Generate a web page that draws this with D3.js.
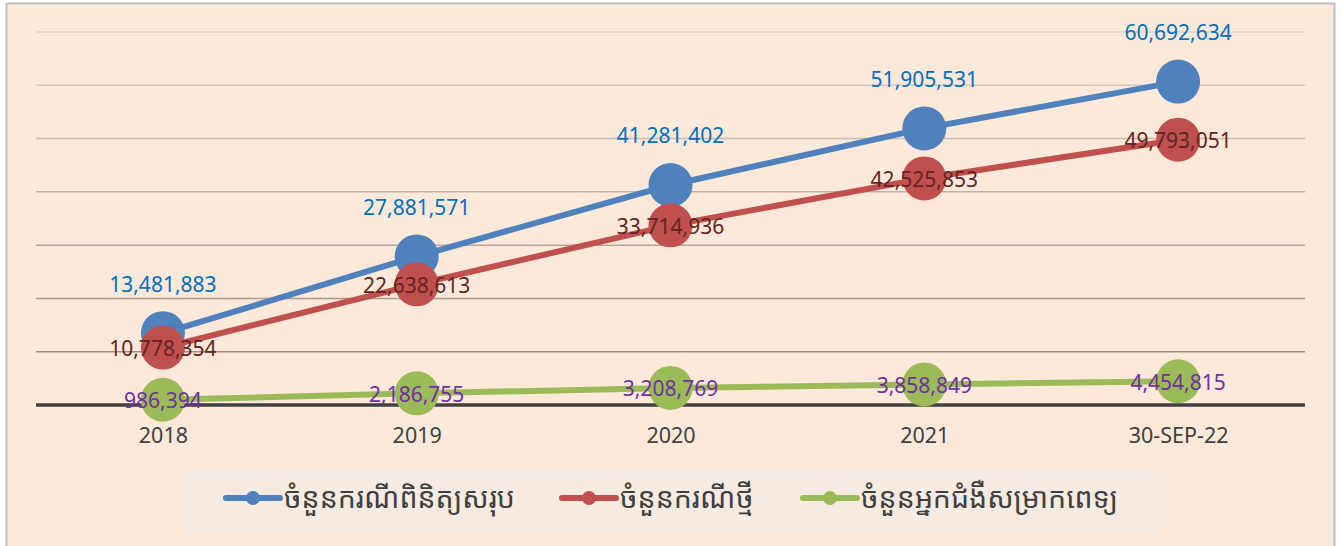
<!DOCTYPE html>
<html>
<head>
  <meta charset="utf-8">
  <title>Cases chart</title>
  <script src="https://cdn.jsdelivr.net/npm/d3@7/dist/d3.min.js"></script>
  <style>
    body { margin: 0; background: #fff; }
    svg text { font-family: "Noto Sans", "DejaVu Sans", sans-serif; }
    .legend text { font-family: "Noto Sans Khmer", "Khmer OS", "Noto Sans", sans-serif; }
  </style>
</head>
<body>
  <div id="chart"></div>
  <script>
    const categories = ['2018', '2019', '2020', '2021', '30-SEP-22'];
    const totalTested = [13481883, 27881571, 41281402, 51905531, 60692634];
    const newCases = [10778354, 22638613, 33714936, 42525853, 49793051];
    const patients = [986394, 2186755, 3208769, 3858849, 4454815];
    const seriesNames = ['ចំនួនករណីពិនិត្យសរុប', 'ចំនួនករណីថ្មី', 'ចំនួនអ្នកជំងឺសម្រាកពេទ្យ'];

    const series = [
      { name: seriesNames[0], values: totalTested, color: '#4F81BD', label: '#0070C0', pos: 'above' },
      { name: seriesNames[1], values: newCases, color: '#C0504D', label: '#632523', pos: 'center' },
      { name: seriesNames[2], values: patients, color: '#9BBB59', label: '#7030A0', pos: 'center' }
    ];

    const W = 1343, H = 546;
    const svg = d3.select('#chart').append('svg')
      .attr('width', W)
      .attr('height', H);

    // chart area background + border
    svg.append('rect')
      .attr('x', 6.5).attr('y', 3.5)
      .attr('width', 1328).attr('height', 560)
      .attr('fill', '#FDE9DA')
      .attr('stroke', '#BFBFBF')
      .attr('stroke-width', 2);

    const plotLeft = 36, plotRight = 1305, plotTop = 32, plotBottom = 405;

    const x = d3.scalePoint()
      .domain(categories)
      .range([plotLeft, plotRight])
      .padding(0.5);

    const y = d3.scaleLinear()
      .domain([0, 70000000])
      .range([plotBottom, plotTop]);

    // gridlines, getting darker toward the bottom
    const ticks = d3.range(10000000, 70000001, 10000000);
    const gridColor = d3.scaleLinear()
      .domain([70000000, 10000000])
      .range(['#E2D3C8', '#9C918A']);

    svg.append('g')
      .selectAll('line')
      .data(ticks)
      .join('line')
      .attr('x1', plotLeft).attr('x2', plotRight)
      .attr('y1', d => y(d)).attr('y2', d => y(d))
      .attr('stroke', d => gridColor(d))
      .attr('stroke-width', 1.5);

    // x axis
    const xAxis = svg.append('g')
      .attr('transform', `translate(0,${y(0)})`)
      .call(d3.axisBottom(x).tickSize(0).tickPadding(23));
    xAxis.select('.domain')
      .attr('d', `M${plotLeft},0H${plotRight}`)
      .attr('stroke', '#404040')
      .attr('stroke-width', 3.5);
    xAxis.selectAll('text')
      .attr('fill', '#404040')
      .style('font-size', '21.5px');

    const line = d3.line()
      .x((d, i) => x(categories[i]))
      .y(d => y(d));

    // lines
    series.forEach(s => {
      svg.append('path')
        .datum(s.values)
        .attr('d', line)
        .attr('fill', 'none')
        .attr('stroke', s.color)
        .attr('stroke-width', 6);
    });

    // markers
    series.forEach(s => {
      svg.append('g')
        .selectAll('circle')
        .data(s.values)
        .join('circle')
        .attr('cx', (d, i) => x(categories[i]))
        .attr('cy', d => y(d))
        .attr('r', 22)
        .attr('fill', s.color);
    });

    // data labels
    const fmt = d3.format(',');
    series.forEach(s => {
      svg.append('g')
        .selectAll('text')
        .data(s.values)
        .join('text')
        .attr('x', (d, i) => x(categories[i]))
        .attr('y', d => s.pos === 'above' ? y(d) - 49 : y(d) + 1)
        .attr('dy', '0.35em')
        .attr('text-anchor', 'middle')
        .attr('fill', s.label)
        .style('font-size', '21px')
        .text(d => fmt(d));
    });

    // legend
    const legend = svg.append('g').attr('class', 'legend');
    legend.append('rect')
      .attr('x', 180).attr('y', 467)
      .attr('width', 982).attr('height', 63)
      .attr('fill', '#F7EBE1');

    const legendX = [226, 562, 803];
    series.forEach((s, i) => {
      const g = legend.append('g')
        .attr('transform', `translate(${legendX[i]},498)`);
      g.append('line')
        .attr('x1', 0).attr('x2', 54)
        .attr('stroke', s.color)
        .attr('stroke-width', 6)
        .attr('stroke-linecap', 'round');
      g.append('circle')
        .attr('cx', 27).attr('r', 7)
        .attr('fill', s.color);
      g.append('text')
        .attr('x', 58)
        .attr('dy', '0.35em')
        .attr('fill', '#404040')
        .style('font-size', '28.5px')
        .text(s.name);
    });
  </script>
</body>
</html>
